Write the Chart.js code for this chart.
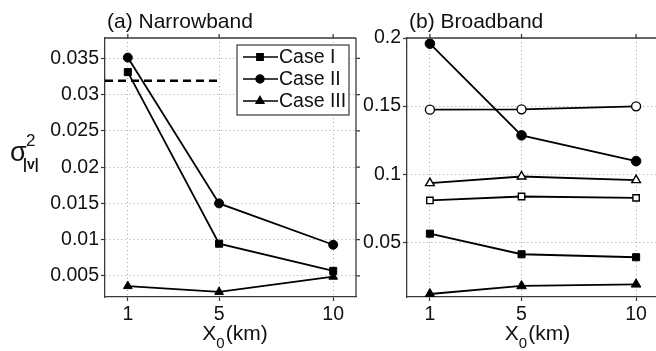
<!DOCTYPE html>
<html>
<head>
<meta charset="utf-8">
<script src="https://cdn.jsdelivr.net/npm/chart.js@4.4.0/dist/chart.umd.min.js"></script>
<style>
  html, body { margin: 0; padding: 0; background: #fff; overflow: hidden; }
  #wrap { position: relative; width: 656px; height: 351px; overflow: hidden; }
  #narrow { position: absolute; left: 0; top: 0; }
  #broad { position: absolute; left: 330px; top: 0; }
</style>
</head>
<body>
<div id="wrap">
  <canvas id="narrow" width="370" height="351"></canvas>
  <canvas id="broad" width="345" height="351"></canvas>
</div>
<script>
// source distance X0 in km
const distances = [1, 5, 10];
const xTicks = [1, 5, 10];

// (a) narrowband variance
const narrowCaseI = [0.0331, 0.00945, 0.0057];
const narrowCaseII = [0.0351, 0.0150, 0.0093];
const narrowCaseIII = [0.0036, 0.0028, 0.0049];
const narrowRefLevel = 0.0319;
const narrowRefSpan = [0, 5];
const narrowYTicks = [0.005, 0.01, 0.015, 0.02, 0.025, 0.03, 0.035];

// (b) broadband variance, filled and open markers
const broadCaseI = [0.0563, 0.0412, 0.0390];
const broadCaseII = [0.1958, 0.1285, 0.1096];
const broadCaseIII = [0.0120, 0.0179, 0.0191];
const broadOpenI = [0.0807, 0.0836, 0.0826];
const broadOpenII = [0.1474, 0.1476, 0.1498];
const broadOpenIII = [0.0934, 0.0983, 0.0956];
const broadYTicks = [0.05, 0.1, 0.15, 0.2];

const FONT = '"Liberation Sans", Arial, Helvetica, sans-serif';
const INK = '#111';
const AXIS = '#3a3a3a';

function pts(ys) {
    return distances.map((x, i) => ({x: x, y: ys[i]}));
}

function series(label, ys, style, radius, open, legend) {
    return {
        label: label,
        data: pts(ys),
        borderColor: '#000',
        borderWidth: 1.8,
        backgroundColor: open ? '#fff' : '#000',
        pointStyle: style,
        pointRadius: radius,
        pointBorderWidth: open ? 1.4 : 1,
        pointBackgroundColor: open ? '#fff' : '#000',
        pointBorderColor: '#000',
        tension: 0,
        inLegend: legend
    };
}

// box, outer ticks on top/right, titles, axis labels and the inset legend
const decor = {
    id: 'decor',
    afterDraw(chart, args, opts) {
        const ctx = chart.ctx;
        const {left, right, top, bottom} = chart.chartArea;
        const xs = chart.scales.x, ys = chart.scales.y;
        ctx.save();
        ctx.strokeStyle = AXIS;
        ctx.lineWidth = 1.3;
        ctx.beginPath();
        ctx.moveTo(left, top); ctx.lineTo(right, top);
        ctx.moveTo(right, top); ctx.lineTo(right, bottom);
        xs.ticks.forEach(t => {
            const px = xs.getPixelForValue(t.value);
            ctx.moveTo(px, top); ctx.lineTo(px, top - 4);
        });
        ys.ticks.forEach(t => {
            const py = ys.getPixelForValue(t.value);
            ctx.moveTo(right, py); ctx.lineTo(right + 4, py);
        });
        ctx.stroke();

        ctx.fillStyle = INK;
        ctx.textBaseline = 'alphabetic';
        ctx.textAlign = 'left';
        ctx.font = '21px ' + FONT;
        ctx.fillText(opts.title, left + 2, 28);

        // X0(km)
        const big = '21px ' + FONT, small = '15px ' + FONT;
        ctx.font = big;
        const wX = ctx.measureText('X').width;
        const wK = ctx.measureText('(km)').width;
        ctx.font = small;
        const w0 = ctx.measureText('0').width;
        let x0 = (left + right) / 2 + 4 - (wX + w0 + wK) / 2;
        ctx.font = big;
        ctx.fillText('X', x0, 340);
        ctx.font = small;
        ctx.fillText('0', x0 + wX, 348);
        ctx.font = big;
        ctx.fillText('(km)', x0 + wX + w0 + 1, 340);

        if (opts.ylabel) {
            ctx.font = '27px ' + FONT;
            ctx.fillText('σ', 10, 161);
            ctx.font = '17px ' + FONT;
            ctx.fillText('2', 26, 146);
            ctx.font = 'bold 14px ' + FONT;
            ctx.fillText('|v|', 23, 169);
        }

        if (opts.legend) {
            const bx = 237, by = 45, bw = 112, bh = 70;
            ctx.fillStyle = '#fff';
            ctx.fillRect(bx, by, bw, bh);
            ctx.strokeStyle = AXIS;
            ctx.lineWidth = 1.2;
            ctx.strokeRect(bx, by, bw, bh);
            const items = chart.data.datasets.filter(d => d.inLegend);
            items.forEach((d, i) => {
                const cy = 57 + i * 22;
                ctx.strokeStyle = '#000';
                ctx.lineWidth = 1.4;
                ctx.beginPath();
                ctx.moveTo(243, cy); ctx.lineTo(278, cy);
                ctx.stroke();
                ctx.fillStyle = '#000';
                Chart.helpers.drawPoint(ctx, {
                    pointStyle: d.pointStyle, radius: d.pointRadius - 0.5,
                    rotation: 0, borderWidth: 1
                }, 260, cy);
                ctx.fillStyle = INK;
                ctx.font = '19.5px ' + FONT;
                ctx.textBaseline = 'middle';
                ctx.fillText(d.label, 279, cy + 1);
            });
        }
        ctx.restore();
    }
};

function scales(yMin, yMax, yTicks, yWidth) {
    const tickFont = {family: FONT, size: 19.5};
    const grid = {
        color: '#a8a8a8', lineWidth: 1, tickLength: 4,
        tickColor: AXIS, tickWidth: 1.2, tickBorderDash: []
    };
    const border = {display: true, color: AXIS, width: 1.3, dash: [1, 3]};
    return {
        x: {
            type: 'linear', min: 0, max: 11,
            afterBuildTicks: s => { s.ticks = xTicks.map(v => ({value: v})); },
            afterFit: s => { s.height = 54; },
            ticks: {font: tickFont, color: INK, padding: 2, maxRotation: 0},
            grid: grid, border: border
        },
        y: {
            type: 'linear', min: yMin, max: yMax,
            afterBuildTicks: s => { s.ticks = yTicks.map(v => ({value: v})); },
            afterFit: s => { s.width = yWidth; },
            ticks: {
                font: tickFont, color: INK, padding: 2,
                callback: v => String(+v.toFixed(4))
            },
            grid: grid, border: border
        }
    };
}

new Chart(document.getElementById('narrow'), {
    type: 'line',
    data: {
        datasets: [
            series('Case I', narrowCaseI, 'rect', 5, false, true),
            series('Case II', narrowCaseII, 'circle', 4.5, false, true),
            series('Case III', narrowCaseIII, 'triangle', 5, false, true),
            {
                label: 'level',
                data: narrowRefSpan.map(x => ({x: x, y: narrowRefLevel})),
                borderColor: '#000',
                borderWidth: 2.6,
                borderDash: [8, 5],
                pointRadius: 0,
                inLegend: false
            }
        ]
    },
    options: {
        responsive: false,
        animation: false,
        layout: {padding: {top: 38, right: 14, left: 0, bottom: 0}},
        scales: scales(0.0021, 0.0378, narrowYTicks, 105),
        plugins: {
            legend: {display: false},
            tooltip: {enabled: false},
            decor: {title: '(a) Narrowband', legend: true, ylabel: true}
        }
    },
    plugins: [decor]
});

new Chart(document.getElementById('broad'), {
    type: 'line',
    data: {
        datasets: [
            series('Case I', broadCaseI, 'rect', 5, false, false),
            series('Case II', broadCaseII, 'circle', 4.8, false, false),
            series('Case III', broadCaseIII, 'triangle', 5.5, false, false),
            series('Case I (open)', broadOpenI, 'rect', 4.5, true, false),
            series('Case II (open)', broadOpenII, 'circle', 4.5, true, false),
            series('Case III (open)', broadOpenIII, 'triangle', 5, true, false)
        ]
    },
    options: {
        responsive: false,
        animation: false,
        layout: {padding: {top: 38, right: 16, left: 0, bottom: 0}},
        scales: scales(0.0098, 0.2, broadYTicks, 77),
        plugins: {
            legend: {display: false},
            tooltip: {enabled: false},
            decor: {title: '(b) Broadband', legend: false, ylabel: false}
        }
    },
    plugins: [decor]
});
</script>
</body>
</html>
